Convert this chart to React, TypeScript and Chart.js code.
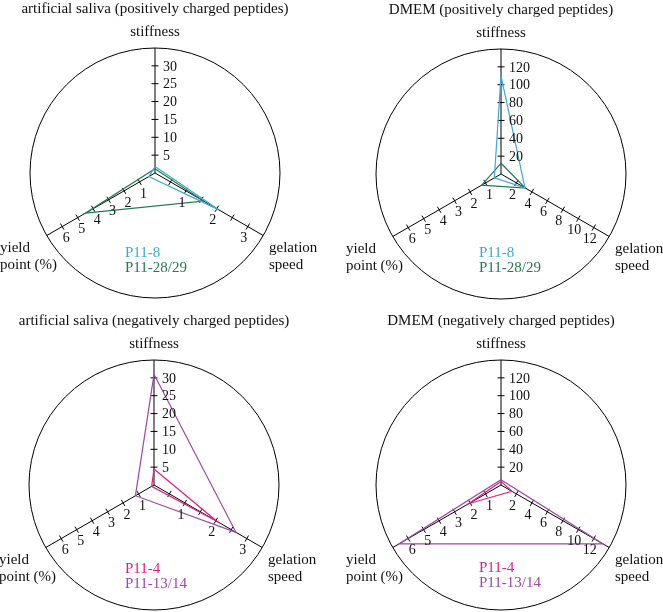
import React, { useEffect, useRef } from 'react';
import { Chart, registerables } from 'chart.js';
Chart.register(...registerables);

// ---- data ----
const axisNames = ['stiffness', 'gelation speed', 'yield point (%)'];
const salivaAxisMax = [35, 3.5, 7];
const dmemAxisMax = [140, 14, 7];

const salivaStiffTicks = [5, 10, 15, 20, 25, 30];
const salivaGelTicks = [0.5, 1, 1.5, 2, 2.5, 3];
const salivaGelLabels = [1, 2, 3];
const yieldTicks = [1, 2, 3, 4, 5, 6];
const dmemStiffTicks = [20, 40, 60, 80, 100, 120];
const dmemGelTicks = [2, 4, 6, 8, 10, 12];

// values order: stiffness, gelation speed, yield point (%)
const p11_8_saliva = [1.8, 2.05, 0.4];
const p11_2829_saliva = [1.2, 1.57, 4.5];
const p11_8_dmem = [110, 3.1, 0.43];
const p11_2829_dmem = [12, 3.15, 1.25];
const p11_4_saliva = [4.5, 2.04, 0.15];
const p11_1314_saliva = [31, 2.65, 1.2];
const p11_4_dmem = [4, 1.4, 2.1];
const p11_1314_dmem = [6, 13.2, 6.6];

const BLUE = '#3ea7d6';
const GREEN = '#237a50';
const MAGENTA = '#e0207e';
const PURPLE = '#9d47a6';

const FONT = '"Liberation Serif", "Times New Roman", serif';

type Series = { name: string; values: number[]; color: string };
type PanelProps = {
  title: string;
  axisMax: number[];
  ticks: number[][];
  labels: number[][];
  series: Series[];
  padding: { left: number; right: number; top: number; bottom: number };
  legendDx: number;
  legendDy: number;
  left: number;
  top: number;
};

function Panel(props: PanelProps) {
  const ref = useRef<HTMLCanvasElement | null>(null);
  useEffect(() => {
    const canvas = ref.current;
    if (!canvas) return;
    const { axisMax, ticks, labels, series, title, legendDx, legendDy } = props;
    const overlay = {
      id: 'overlay',
      beforeDatasetsDraw(chart: any) {
        const s = chart.scales.r;
        const ctx = chart.ctx;
        const cx = s.xCenter, cy = s.yCenter;
        ctx.save();
        ctx.strokeStyle = '#000';
        ctx.lineWidth = 1;
        ticks.forEach((tv, i) => {
          const end = s.getPointPosition(i, s.drawingArea);
          const ux = (end.x - cx) / s.drawingArea;
          const uy = (end.y - cy) / s.drawingArea;
          const px = -uy, py = ux;
          tv.forEach((v) => {
            const p = s.getPointPosition(i, s.getDistanceFromCenterForValue(v / axisMax[i]));
            ctx.beginPath();
            ctx.moveTo(p.x - px * 3.5, p.y - py * 3.5);
            ctx.lineTo(p.x + px * 3.5, p.y + py * 3.5);
            ctx.stroke();
          });
        });
        ctx.restore();
      },
      afterDraw(chart: any) {
        const s = chart.scales.r;
        const ctx = chart.ctx;
        const cx = s.xCenter, cy = s.yCenter;
        ctx.save();
        ctx.fillStyle = '#111';
        ctx.font = '14px ' + FONT;
        ctx.textBaseline = 'middle';
        labels.forEach((lv, i) => {
          lv.forEach((v) => {
            const p = s.getPointPosition(i, s.getDistanceFromCenterForValue(v / axisMax[i]));
            if (i === 0) {
              ctx.textAlign = 'left';
              ctx.fillText(String(v), p.x + 8, p.y + 1);
            } else if (i === 1) {
              ctx.textAlign = 'center';
              ctx.fillText(String(v), p.x - 4, p.y + 12);
            } else {
              ctx.textAlign = 'center';
              ctx.fillText(String(v), p.x + 4, p.y + 12);
            }
          });
        });
        ctx.font = '15px ' + FONT;
        ctx.textAlign = 'center';
        ctx.fillText(title, cx, cy - 164);
        ctx.fillText(axisNames[0], cx, cy - 141);
        ctx.textAlign = 'left';
        ctx.fillText('gelation', cx + 114, cy + 75);
        ctx.fillText('speed', cx + 114, cy + 92);
        ctx.fillText('yield', cx - 155, cy + 75);
        ctx.fillText('point (%)', cx - 155, cy + 92);
        series.forEach((sr, k) => {
          ctx.fillStyle = sr.color;
          ctx.fillText(sr.name, cx + legendDx, cy + legendDy + k * 15);
        });
        ctx.restore();
      },
    };
    const chart = new Chart(canvas, {
      type: 'radar',
      data: {
        labels: axisNames,
        datasets: series.map((sr) => ({
          label: sr.name,
          data: sr.values.map((v, i) => v / axisMax[i]),
          borderColor: sr.color,
          backgroundColor: 'transparent',
          borderWidth: 1.2,
          pointRadius: 0,
          fill: false,
          tension: 0,
        })),
      },
      options: {
        responsive: false,
        animation: false,
        layout: { padding: props.padding },
        plugins: { legend: { display: false }, tooltip: { enabled: false }, title: { display: false } },
        scales: {
          r: {
            min: 0,
            max: 1,
            ticks: { display: false, stepSize: 1 },
            grid: { circular: true, color: '#000', lineWidth: 1 },
            angleLines: { color: '#000', lineWidth: 1 },
            pointLabels: { display: false },
          },
        },
      } as any,
      plugins: [overlay],
    });
    return () => chart.destroy();
  }, []);
  return (
    <canvas
      ref={ref}
      width={332}
      height={306}
      style={{ position: 'absolute', left: props.left, top: props.top, width: 332, height: 306 }}
    />
  );
}

export default function App() {
  return (
    <div style={{ position: 'absolute', left: 0, top: 0, width: 663, height: 612, background: '#fff', overflow: 'hidden' }}>
      <Panel
        title="artificial saliva (positively charged peptides)"
        axisMax={salivaAxisMax}
        ticks={[salivaStiffTicks, salivaGelTicks, yieldTicks]}
        labels={[salivaStiffTicks, salivaGelLabels, yieldTicks]}
        series={[
          { name: 'P11-8', values: p11_8_saliva, color: BLUE },
          { name: 'P11-28/29', values: p11_2829_saliva, color: GREEN },
        ]}
        padding={{ left: 30, right: 52, top: 48, bottom: 8 }}
        legendDx={-30}
        legendDy={80}
        left={0}
        top={0}
      />
      <Panel
        title="DMEM (positively charged peptides)"
        axisMax={dmemAxisMax}
        ticks={[dmemStiffTicks, dmemGelTicks, yieldTicks]}
        labels={[dmemStiffTicks, dmemGelTicks, yieldTicks]}
        series={[
          { name: 'P11-8', values: p11_8_dmem, color: BLUE },
          { name: 'P11-28/29', values: p11_2829_dmem, color: GREEN },
        ]}
        padding={{ left: 45, right: 37, top: 49, bottom: 7 }}
        legendDx={-22}
        legendDy={79}
        left={331}
        top={0}
      />
      <Panel
        title="artificial saliva (negatively charged peptides)"
        axisMax={salivaAxisMax}
        ticks={[salivaStiffTicks, salivaGelTicks, yieldTicks]}
        labels={[salivaStiffTicks, salivaGelLabels, yieldTicks]}
        series={[
          { name: 'P11-4', values: p11_4_saliva, color: MAGENTA },
          { name: 'P11-13/14', values: p11_1314_saliva, color: PURPLE },
        ]}
        padding={{ left: 29, right: 53, top: 54, bottom: 2 }}
        legendDx={-29}
        legendDy={84}
        left={0}
        top={306}
      />
      <Panel
        title="DMEM (negatively charged peptides)"
        axisMax={dmemAxisMax}
        ticks={[dmemStiffTicks, dmemGelTicks, yieldTicks]}
        labels={[dmemStiffTicks, dmemGelTicks, yieldTicks]}
        series={[
          { name: 'P11-4', values: p11_4_dmem, color: MAGENTA },
          { name: 'P11-13/14', values: p11_1314_dmem, color: PURPLE },
        ]}
        padding={{ left: 45, right: 37, top: 54, bottom: 2 }}
        legendDx={-22}
        legendDy={83}
        left={331}
        top={306}
      />
    </div>
  );
}
